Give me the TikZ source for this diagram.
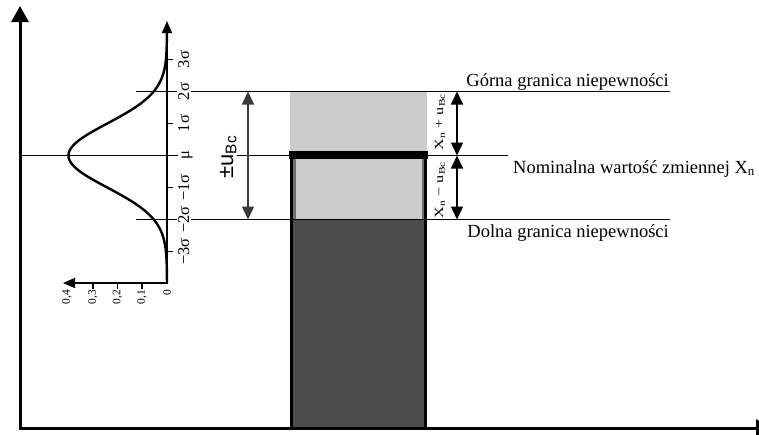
\documentclass[tikz,border=0pt]{standalone}
\usepackage{fontspec}
\usepackage{graphicx}
\setmainfont{Liberation Serif}
\newfontfamily\arialfont{Liberation Sans}
\usetikzlibrary{arrows.meta}
\definecolor{lgray}{HTML}{CCCCCC}
\definecolor{dgray}{HTML}{4D4D4D}
\definecolor{mgray}{HTML}{6E6E6E}
\definecolor{agray}{HTML}{3A3A3A}
\begin{document}
\begin{tikzpicture}[x=1pt,y=-1pt,
  thinline/.style={line width=1.3pt},
  axisline/.style={line width=3pt},
  smallaxis/.style={line width=1.5pt},
  bigtips/.style={{Triangle[width=17pt,length=16pt]}-{Triangle[width=17pt,length=16pt]}},
  smalltips/.style={{Triangle[width=10pt,length=12pt]}-{Triangle[width=10pt,length=12pt]}},
  dimtips/.style={{Triangle[width=12pt,length=13pt]}-{Triangle[width=12pt,length=13pt]}},
  biglabel/.style={inner sep=0pt, font=\fontsize{18.5}{22}\selectfont},
  siglabel/.style={rotate=90, anchor=base, inner sep=1.5pt, font=\fontsize{16.5}{18}\selectfont},
  dlabel/.style={rotate=90, anchor=east, inner sep=0pt, font=\fontsize{11.5}{13}\selectfont},
  xlabel/.style={rotate=90, anchor=base, inner sep=0pt, font=\fontsize{12.5}{14}\selectfont},
]
\useasboundingbox (0,0) rectangle (759,434);

% ---- box (bar) ----
\fill[lgray] (290,91.5) rectangle (427,159);
\fill[lgray] (290,159) rectangle (427,219.5);
\fill[dgray] (290,219.5) rectangle (427,429);
\fill[mgray] (292.5,159) rectangle (296,219.5);
\fill[mgray] (422,159) rectangle (424.5,219.5);

% ---- uncertainty limit lines ----
\coordinate (upL) at (136,91.5);
\coordinate (upR) at (670,91.5);
\coordinate (loL) at (136,219.5);
\coordinate (loR) at (670,219.5);
\draw[thinline] (upL) -- (upR);
\draw[thinline] (loL) -- (loR);

% ---- nominal line ----
\coordinate (muA) at (20,155.5);
\coordinate (muB) at (178,155.5);
\coordinate (muC) at (237,155.5);
\coordinate (muD) at (508,155.5);
\draw[thinline] (muA) -- (muB);
\draw[thinline] (muC) -- (muD);

% box border and top bar
\fill[black] (289,151) rectangle (428,159);
\draw[line width=3pt] (291.5,155) -- (291.5,429);
\draw[line width=3pt] (425.5,155) -- (425.5,429);

% ---- main axes ----
\coordinate (ytop) at (20,6);
\coordinate (orig) at (20,428);
\coordinate (xend) at (772,428);
\draw[axisline, bigtips] (ytop) -- (orig) -- (xend);

% ---- small distribution axes ----
\coordinate (stop) at (167,21);
\coordinate (so) at (167,283);
\coordinate (sleft) at (63,283);
\draw[smallaxis, smalltips] (stop) -- (so) -- (sleft);

% gaussian
\draw[line width=2.4pt] plot[domain=26:283, samples=200, smooth]
  ({167-98.5*exp(-((\x-155.5)/32)*((\x-155.5)/32)/2)}, \x);

% sigma ticks
\foreach \k in {-3,...,3} {
  \draw[smallaxis] (167,155.5-32*\k) -- (173,155.5-32*\k);
}
\node[siglabel] (s3) at (189,59.5) {3σ};
\node[siglabel, fill=white] (s2) at (189,91.5) {2σ};
\node[siglabel] (s1) at (189,123.5) {1σ};
\node[siglabel] (s0) at (189,155.5) {μ};
\node[siglabel] (sm1) at (189,187.5) {−1σ};
\node[siglabel, fill=white] (sm2) at (189,219.5) {−2σ};
\node[siglabel] (sm3) at (189,251.5) {−3σ};

% density ticks
\foreach \xx in {142,117.5,93} {
  \draw[smallaxis] (\xx,283) -- (\xx,288.5);
}
\node[dlabel] (d0) at (167,290) {0};
\node[dlabel] (d1) at (142,290) {0,1};
\node[dlabel] (d2) at (117.5,290) {0,2};
\node[dlabel] (d3) at (93,290) {0,3};
\node[dlabel] (d4) at (67,290) {0,4};

% ---- +- u_Bc dimension ----
\coordinate (ua) at (248,91.5);
\coordinate (ub) at (248,219.5);
\draw[line width=1.5pt, agray, dimtips] (ua) -- (ub);
\node[rotate=90, anchor=base, inner sep=0pt, font=\arialfont\fontsize{22}{24}\selectfont] (ulab) at (233,157) {±u\textsubscript{Bc}};

% ---- right dimensions ----
\coordinate (ra) at (457,91.5);
\coordinate (rb) at (457,155.5);
\coordinate (rc) at (457,219.5);
\draw[line width=1.5pt, dimtips] (ra) -- (rb);
\draw[line width=1.5pt, dimtips] (rb) -- (rc);
\node[xlabel] (xp) at (443,122) {\scalebox{1.3}[1]{X\textsubscript{n} + u\textsubscript{Bc}}};
\node[xlabel] (xm) at (443,190) {\scalebox{1.3}[1]{X\textsubscript{n} − u\textsubscript{Bc}}};

% ---- text labels ----
\node[biglabel, anchor=base east] (gorna) at (669,86) {Górna granica niepewności};
\node[biglabel, anchor=base west] (nom) at (513,173) {Nominalna wartość zmiennej X\textsubscript{n}};
\node[biglabel, anchor=base east] (dolna) at (669,237) {Dolna granica niepewności};
\end{tikzpicture}
\end{document}
